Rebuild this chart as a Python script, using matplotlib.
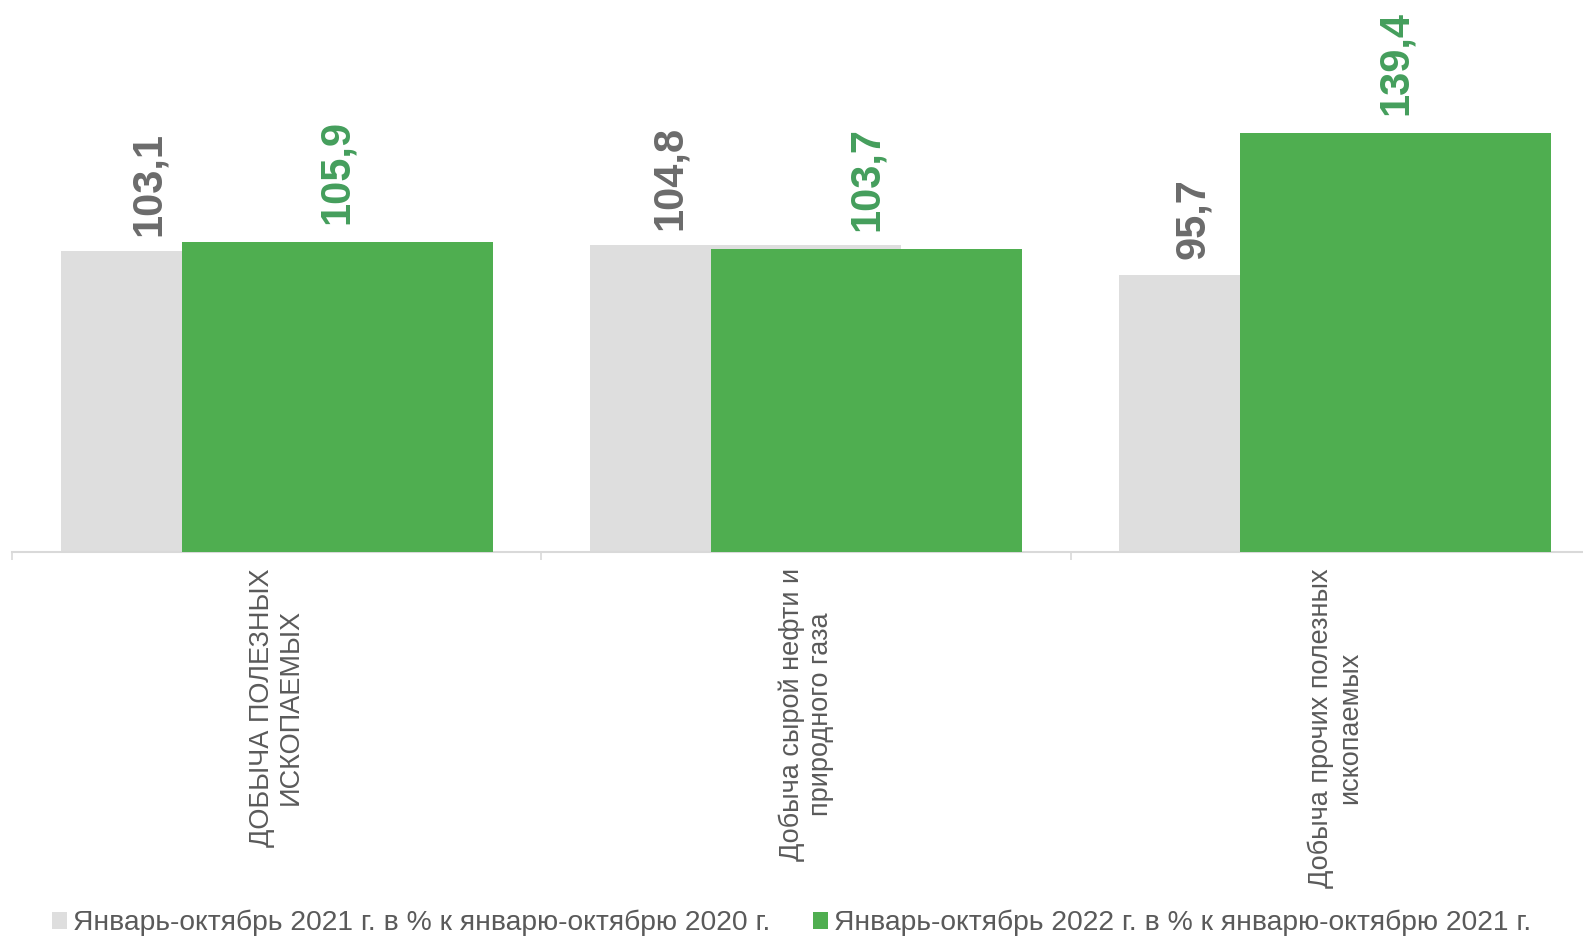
import matplotlib
matplotlib.use("Agg")
import matplotlib.pyplot as plt
import numpy as np

categories = ["ДОБЫЧА ПОЛЕЗНЫХ\nИСКОПАЕМЫХ",
              "Добыча сырой нефти и\nприродного газа",
              "Добыча прочих полезных\nископаемых"]
series_names = ["Январь-октябрь 2021 г. в % к январю-октябрю 2020 г.",
                "Январь-октябрь 2022 г. в % к январю-октябрю 2021 г."]
values_2021 = [103.1, 104.8, 95.7]
values_2022 = [105.9, 103.7, 139.4]

plt.rcParams['font.family'] = ['Liberation Sans', 'DejaVu Sans']

GREY = "#DEDEDE"
GREEN = "#4FAE50"
GREY_TXT = "#6B6B6B"
GREEN_TXT = "#449E5C"
AXIS_TXT = "#5A5A5A"

W, H = 1583, 936
fig = plt.figure(figsize=(W / 100, H / 100), dpi=100)
ax = fig.add_axes([12 / W, 384 / H, 1588 / W, 550 / H])

x = np.arange(len(categories))
bw = 0.5876
off = 0.1143
b1 = ax.bar(x - off, values_2021, width=bw, color=GREY, label=series_names[0], zorder=2)
b2 = ax.bar(x + off, values_2022, width=bw, color=GREEN, label=series_names[1], zorder=3)

ax.set_xlim(-0.5, len(categories) - 0.5)
ax.set_ylim(10, 180)

grey_label_shift = [-0.127, -0.143, -0.154]
for i, v in enumerate(values_2021):
    ax.annotate(f"{v:.1f}".replace(".", ","), (x[i] - off + grey_label_shift[i], v),
                xytext=(0, 11), textcoords="offset points", rotation=90,
                ha="center", va="bottom", fontsize=30, fontweight="bold",
                color=GREY_TXT, zorder=5)
for i, v in enumerate(values_2022):
    ax.annotate(f"{v:.1f}".replace(".", ","), (x[i] + off, v),
                xytext=(0, 13), textcoords="offset points", rotation=90,
                ha="center", va="bottom", fontsize=30, fontweight="bold",
                color=GREEN_TXT, zorder=5)

for s in ["top", "right", "left"]:
    ax.spines[s].set_visible(False)
ax.spines["bottom"].set_color("#D9D9D9")
ax.spines["bottom"].set_linewidth(1.5)
ax.set_yticks([])

ax.set_xticks(x)
ax.set_xticklabels(categories, rotation=90, fontsize=19.5, color=AXIS_TXT,
                   ha="center", va="top", multialignment="center", linespacing=1.15)
ax.tick_params(axis="x", which="major", length=0, pad=11.5)
ax.set_xticks(np.arange(-0.5, len(categories), 1.0), minor=True)
ax.tick_params(axis="x", which="minor", length=6, width=1.2, color="#D9D9D9", direction="out")

leg = fig.legend(handles=[b1, b2], loc="center", bbox_to_anchor=(0.5, 1 - 923 / H),
                 ncol=2, frameon=False, fontsize=20.3, handlelength=0.55, handleheight=0.55,
                 handletextpad=0.2, columnspacing=1.5, labelcolor=AXIS_TXT)

fig.savefig("out.png", dpi=100)
